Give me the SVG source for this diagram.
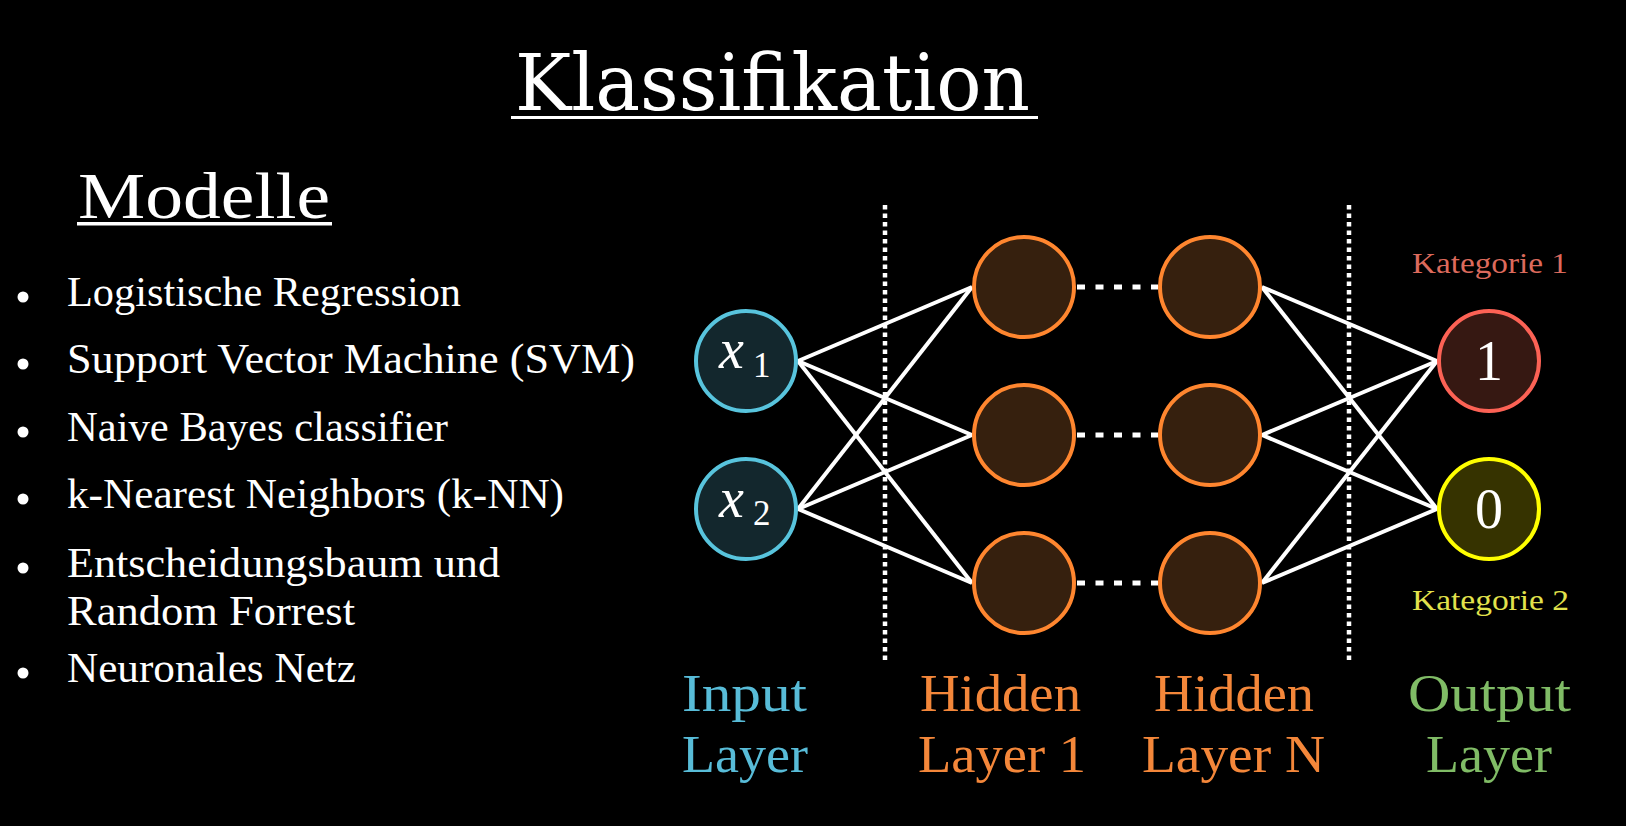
<svg xmlns="http://www.w3.org/2000/svg" width="1626" height="826" viewBox="0 0 1626 826">
<style>
.serif{font-family:"Liberation Serif","Times New Roman",serif;}
.title{font-family:"DejaVu Serif","Liberation Serif",serif;fill:#ffffff;}
.item{font-family:"Liberation Serif",serif;font-size:42px;fill:#ffffff;}
.lbl{font-family:"Liberation Serif",serif;font-size:52px;}
.kat{font-family:"Liberation Serif",serif;font-size:30px;}
.in{fill:#13272d;stroke:#58c4dd;stroke-width:4;}
.hid{fill:#36200e;stroke:#ff862f;stroke-width:4;}
.edge{stroke:#ffffff;stroke-width:4;fill:none;}
.dash{stroke:#ffffff;stroke-width:5;stroke-dasharray:8 10.5;fill:none;}
.sep{stroke:#ffffff;stroke-width:4.5;stroke-dasharray:4.5 4;fill:none;}
.math{font-family:"Liberation Serif",serif;fill:#ffffff;}
</style>
<rect x="0" y="0" width="1626" height="826" fill="#000000"/>

<g id="title">
<text class="title" x="515" y="110" font-size="78" textLength="515" lengthAdjust="spacingAndGlyphs">Klassifikation</text>
<rect x="511" y="116" width="527" height="3" fill="#ffffff"/>
</g>

<g id="modelle">
<text class="serif" x="78" y="218" font-size="66" fill="#ffffff" textLength="252" lengthAdjust="spacingAndGlyphs">Modelle</text>
<rect x="77" y="222" width="255" height="3.5" fill="#ffffff"/>
</g>

<g id="list">
<circle cx="23" cy="297" r="5.5" fill="#ffffff"/>
<text class="item" x="67" y="306" textLength="394" lengthAdjust="spacingAndGlyphs">Logistische Regression</text>
<circle cx="23" cy="364" r="5.5" fill="#ffffff"/>
<text class="item" x="67" y="373" textLength="568" lengthAdjust="spacingAndGlyphs">Support Vector Machine (SVM)</text>
<circle cx="23" cy="432" r="5.5" fill="#ffffff"/>
<text class="item" x="67" y="441" textLength="381" lengthAdjust="spacingAndGlyphs">Naive Bayes classifier</text>
<circle cx="23" cy="499" r="5.5" fill="#ffffff"/>
<text class="item" x="67" y="508" textLength="497" lengthAdjust="spacingAndGlyphs">k-Nearest Neighbors (k-NN)</text>
<circle cx="23" cy="568" r="5.5" fill="#ffffff"/>
<text class="item" x="67" y="577" textLength="433" lengthAdjust="spacingAndGlyphs">Entscheidungsbaum und</text>
<text class="item" x="67" y="625" textLength="288" lengthAdjust="spacingAndGlyphs">Random Forrest</text>
<circle cx="23" cy="673" r="5.5" fill="#ffffff"/>
<text class="item" x="67" y="682" textLength="289" lengthAdjust="spacingAndGlyphs">Neuronales Netz</text>
</g>

<g id="separators">
<line class="sep" x1="885" y1="205" x2="885" y2="664"/>
<line class="sep" x1="1349" y1="205" x2="1349" y2="664"/>
</g>

<g id="connectors">
<line class="edge" x1="798" y1="361" x2="972" y2="287"/>
<line class="edge" x1="798" y1="361" x2="972" y2="435"/>
<line class="edge" x1="798" y1="361" x2="972" y2="583"/>
<line class="edge" x1="798" y1="509" x2="972" y2="287"/>
<line class="edge" x1="798" y1="509" x2="972" y2="435"/>
<line class="edge" x1="798" y1="509" x2="972" y2="583"/>
<line class="dash" x1="1077" y1="287" x2="1158" y2="287"/>
<line class="dash" x1="1077" y1="435" x2="1158" y2="435"/>
<line class="dash" x1="1077" y1="583" x2="1158" y2="583"/>
<line class="edge" x1="1262" y1="287" x2="1437" y2="361"/>
<line class="edge" x1="1262" y1="287" x2="1437" y2="509"/>
<line class="edge" x1="1262" y1="435" x2="1437" y2="361"/>
<line class="edge" x1="1262" y1="435" x2="1437" y2="509"/>
<line class="edge" x1="1262" y1="583" x2="1437" y2="361"/>
<line class="edge" x1="1262" y1="583" x2="1437" y2="509"/>
</g>

<g id="input-x1">
<circle class="in" cx="746" cy="361" r="50"/>
<text class="math" x="719" y="368" font-size="56" font-style="italic">x</text>
<text class="math" x="753" y="377" font-size="35">1</text>
</g>
<g id="input-x2">
<circle class="in" cx="746" cy="509" r="50"/>
<text class="math" x="719" y="517" font-size="56" font-style="italic">x</text>
<text class="math" x="753" y="525" font-size="35">2</text>
</g>

<g id="hidden1-a"><circle class="hid" cx="1024" cy="287" r="50"/></g>
<g id="hidden1-b"><circle class="hid" cx="1024" cy="435" r="50"/></g>
<g id="hidden1-c"><circle class="hid" cx="1024" cy="583" r="50"/></g>
<g id="hiddenN-a"><circle class="hid" cx="1210" cy="287" r="50"/></g>
<g id="hiddenN-b"><circle class="hid" cx="1210" cy="435" r="50"/></g>
<g id="hiddenN-c"><circle class="hid" cx="1210" cy="583" r="50"/></g>

<g id="output-1">
<circle cx="1489" cy="361" r="50" fill="#361812" stroke="#fc6255" stroke-width="4"/>
<text class="math" x="1489" y="380" font-size="56" text-anchor="middle">1</text>
</g>
<g id="output-0">
<circle cx="1489" cy="509" r="50" fill="#363300" stroke="#ffff00" stroke-width="4"/>
<text class="math" x="1489" y="528" font-size="56" text-anchor="middle">0</text>
</g>

<g id="kategorie-labels">
<text class="kat" x="1412" y="273" fill="#dc6a5c" textLength="156" lengthAdjust="spacingAndGlyphs">Kategorie 1</text>
<text class="kat" x="1412" y="610" fill="#e2e24c" textLength="157" lengthAdjust="spacingAndGlyphs">Kategorie 2</text>
</g>

<g id="layer-labels">
<text class="lbl" x="682" y="711" fill="#58bcd8" textLength="125" lengthAdjust="spacingAndGlyphs">Input</text>
<text class="lbl" x="682" y="772" fill="#58bcd8" textLength="126" lengthAdjust="spacingAndGlyphs">Layer</text>
<text class="lbl" x="920" y="711" fill="#f4873a" textLength="161" lengthAdjust="spacingAndGlyphs">Hidden</text>
<text class="lbl" x="918" y="772" fill="#f4873a" textLength="168" lengthAdjust="spacingAndGlyphs">Layer 1</text>
<text class="lbl" x="1154" y="711" fill="#f4873a" textLength="160" lengthAdjust="spacingAndGlyphs">Hidden</text>
<text class="lbl" x="1142" y="772" fill="#f4873a" textLength="183" lengthAdjust="spacingAndGlyphs">Layer N</text>
<text class="lbl" x="1408" y="711" fill="#80bc66" textLength="163" lengthAdjust="spacingAndGlyphs">Output</text>
<text class="lbl" x="1426" y="772" fill="#80bc66" textLength="126" lengthAdjust="spacingAndGlyphs">Layer</text>
</g>
</svg>
